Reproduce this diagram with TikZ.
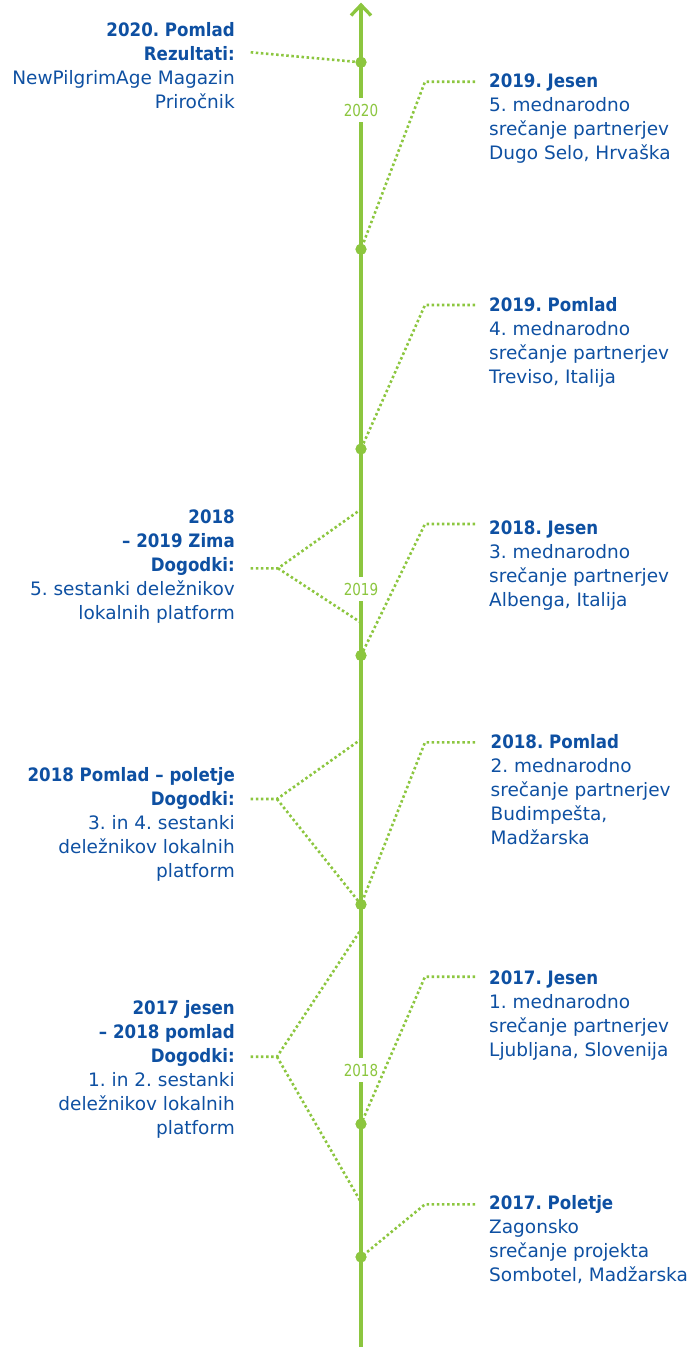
\documentclass[tikz,border=0pt]{standalone}
\usepackage{fontspec}
\setmainfont{DejaVu Sans}[BoldFeatures={FakeStretch=0.9}]
\newfontfamily\yearfont{DejaVu Sans}[FakeStretch=0.82]
\definecolor{tlgreen}{RGB}{140,198,63}
\definecolor{tlblue}{RGB}{14,80,162}
\tikzset{
  axis/.style={draw=tlgreen, line width=3.3pt},
  evdot/.style={circle, fill=tlgreen, inner sep=0pt, minimum size=11pt},
  link/.style={draw=tlgreen, line width=2.6pt, dash pattern=on 2.5pt off 2.6pt},
  yearlbl/.style={fill=white, text=tlgreen, font=\yearfont\fontsize{16.5}{18}\selectfont, inner xsep=1pt, inner ysep=0pt, minimum height=24pt},
  rtext/.style={anchor=north west, inner sep=0pt, align=left, text=tlblue, font=\fontsize{18.5}{24}\selectfont},
  ltext/.style={anchor=north east, inner sep=0pt, align=right, text=tlblue, font=\fontsize{18.5}{24}\selectfont},
}
\newcommand{\fl}{\rule{0pt}{15pt}}
\frenchspacing
\begin{document}
\frenchspacing
\begin{tikzpicture}[x=1pt, y=-1pt]
\useasboundingbox (0,0) rectangle (694,1347);
% main axis
\coordinate (bot) at (361,1347);
\coordinate (tip) at (361,5);
\coordinate (arrL) at (351,15.5);
\coordinate (arrR) at (371,15.5);
\draw[axis] (bot) -- (tip);
\draw[axis, line join=miter] (arrL) -- (tip) -- (arrR);
% year labels
\node[yearlbl] (y2020) at (361,110) {2020};
\node[yearlbl] (y2019) at (361,589) {2019};
\node[yearlbl] (y2018) at (361,1070) {2018};
% dots
\node[evdot] (d1) at (361,62.3) {};
\node[evdot] (d2) at (361,249.3) {};
\node[evdot] (d3) at (361,449) {};
\node[evdot] (d4) at (361,655.5) {};
\node[evdot] (d5) at (361,904.5) {};
\node[evdot] (d6) at (361,1124) {};
\node[evdot] (d7) at (361,1257) {};
% right texts
\node[rtext] (r1) at (489,72.3) {\fl\textbf{2019. Jesen}\\5. mednarodno\\srečanje partnerjev\\Dugo Selo, Hrvaška};
\node[rtext] (r2) at (489,296.7) {\fl\textbf{2019. Pomlad}\\4. mednarodno\\srečanje partnerjev\\Treviso, Italija};
\node[rtext] (r3) at (489,519.3) {\fl\textbf{2018. Jesen}\\3. mednarodno\\srečanje partnerjev\\Albenga, Italija};
\node[rtext] (r4) at (490.5,733.3) {\fl\textbf{2018. Pomlad}\\2. mednarodno\\srečanje partnerjev\\Budimpešta,\\Madžarska};
\node[rtext] (r5) at (489,969) {\fl\textbf{2017. Jesen}\\1. mednarodno\\srečanje partnerjev\\Ljubljana, Slovenija};
\node[rtext] (r6) at (489,1194.3) {\fl\textbf{2017. Poletje}\\Zagonsko\\srečanje projekta\\Sombotel, Madžarska};
% left texts
\node[ltext] (l1) at (235,21) {\fl\textbf{2020. Pomlad}\\\textbf{Rezultati:}\\NewPilgrimAge Magazin\\Priročnik};
\node[ltext] (l2) at (235,508.3) {\fl\textbf{2018}\\\textbf{– 2019 Zima}\\\textbf{Dogodki:}\\5. sestanki deležnikov\\lokalnih platform};
\node[ltext] (l3) at (235,766) {\fl\textbf{2018 Pomlad – poletje}\\\textbf{Dogodki:}\\3. in 4. sestanki\\deležnikov lokalnih\\platform};
\node[ltext] (l4) at (235,999) {\fl\textbf{2017 jesen}\\\textbf{– 2018 pomlad}\\\textbf{Dogodki:}\\1. in 2. sestanki\\deležnikov lokalnih\\platform};
% connector coordinates
\coordinate (l1s) at (250.7,52.3);
\coordinate (r1s) at (475,81.7);  \coordinate (r1b) at (425,81.7);
\coordinate (r2s) at (475,305);   \coordinate (r2b) at (425,305);
\coordinate (r3s) at (475,524);   \coordinate (r3b) at (425,524);
\coordinate (r4s) at (475,742.3); \coordinate (r4b) at (425,742.3);
\coordinate (r5s) at (475,976.7); \coordinate (r5b) at (425,976.7);
\coordinate (r6s) at (475,1204.3);\coordinate (r6b) at (425,1204.3);
\coordinate (l2s) at (250.7,568.3); \coordinate (l2b) at (278,568.3);
\coordinate (l2u) at (360,510);     \coordinate (l2d) at (360,622);
\coordinate (l3s) at (250.7,799);   \coordinate (l3b) at (277,799);
\coordinate (l3u) at (360,740);
\coordinate (l4s) at (250.7,1056.7);\coordinate (l4b) at (277,1056.7);
\coordinate (l4u) at (360,931);     \coordinate (l4d) at (360,1200.5);
% connectors
\draw[link] (l1s) -- (d1.center);
\draw[link] (r1s) -- (r1b) -- (d2.center);
\draw[link] (r2s) -- (r2b) -- (d3.center);
\draw[link] (r3s) -- (r3b) -- (d4.center);
\draw[link] (r4s) -- (r4b) -- (d5.center);
\draw[link] (r5s) -- (r5b) -- (d6.center);
\draw[link] (r6s) -- (r6b) -- (d7.center);
\draw[link] (l2s) -- (l2b) -- (l2u);
\draw[link] (l2b) -- (l2d);
\draw[link] (l3s) -- (l3b) -- (l3u);
\draw[link] (l3b) -- (d5.center);
\draw[link] (l4s) -- (l4b) -- (l4u);
\draw[link] (l4b) -- (l4d);
% redraw dots on top
\foreach \d in {d1,d2,d3,d4,d5,d6,d7} \fill[tlgreen] (\d.center) circle (5.5pt);
\end{tikzpicture}
\end{document}
